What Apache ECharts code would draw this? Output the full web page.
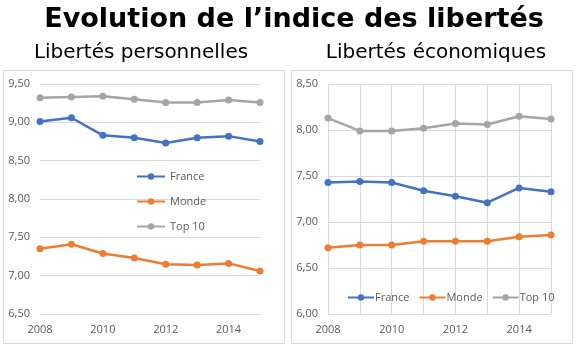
<!DOCTYPE html>
<html>
<head>
<meta charset="utf-8">
<script src="https://cdn.jsdelivr.net/npm/echarts@6/dist/echarts.min.js"></script>
<style>
  html, body { margin: 0; padding: 0; background: #fff; }
  #chart { width: 580px; height: 354px; }
</style>
</head>
<body>
<div id="chart"></div>
<script>
const years = ['2008', '2009', '2010', '2011', '2012', '2013', '2014', '2015']
const seriesNames = ['France', 'Monde', 'Top 10']
const colors = ['#4472C4', '#ED7D31', '#A5A5A5']

// libertés personnelles
const persoFrance = [9.01, 9.06, 8.83, 8.80, 8.73, 8.80, 8.82, 8.75]
const persoMonde = [7.35, 7.41, 7.29, 7.23, 7.15, 7.14, 7.16, 7.06]
const persoTop10 = [9.32, 9.33, 9.34, 9.30, 9.26, 9.26, 9.29, 9.26]

// libertés économiques
const ecoFrance = [7.43, 7.44, 7.43, 7.34, 7.28, 7.21, 7.37, 7.33]
const ecoMonde = [6.72, 6.75, 6.75, 6.79, 6.79, 6.79, 6.84, 6.86]
const ecoTop10 = [8.13, 7.99, 7.99, 8.02, 8.07, 8.06, 8.15, 8.12]

const chart = echarts.init(document.getElementById('chart'))

const labelFont = { color: '#595959', fontSize: 11, fontFamily: 'Open Sans' }
const gridLine = { lineStyle: { color: '#D9D9D9', width: 1 } }
const fmt = v => v.toFixed(2).replace('.', ',')

function xAxis(gridIndex, vLines) {
  return {
    type: 'category', gridIndex: gridIndex, data: years, boundaryGap: false,
    axisLine: { show: false }, axisTick: { show: false },
    axisLabel: Object.assign({ interval: 1, margin: 10 }, labelFont),
    splitLine: { show: vLines, interval: 0, lineStyle: gridLine.lineStyle }
  }
}

function yAxis(gridIndex, min, max) {
  return {
    type: 'value', gridIndex: gridIndex, min: min, max: max, interval: 0.5,
    axisLine: { show: false }, axisTick: { show: false },
    axisLabel: Object.assign({ formatter: fmt, margin: 10 }, labelFont),
    splitLine: gridLine
  }
}

function line(name, data, idx) {
  const i = seriesNames.indexOf(name)
  return {
    name: name, type: 'line', data: data,
    xAxisIndex: idx, yAxisIndex: idx,
    symbol: 'circle', symbolSize: 7,
    lineStyle: { width: 2.5, color: colors[i] },
    itemStyle: { color: colors[i] }
  }
}

chart.setOption({
  animation: false,
  color: colors,
  title: [
    { text: 'Evolution de l\u2019indice des libertés', left: 289, top: 1, textAlign: 'center',
      textStyle: { fontFamily: 'DejaVu Sans', fontWeight: 'bold', fontSize: 27, color: '#000' } },
    { text: 'Libertés personnelles', left: 136, top: 38, textAlign: 'center',
      textStyle: { fontFamily: 'DejaVu Sans', fontWeight: 'normal', fontSize: 20, color: '#000' } },
    { text: 'Libertés économiques', left: 431, top: 38, textAlign: 'center',
      textStyle: { fontFamily: 'DejaVu Sans', fontWeight: 'normal', fontSize: 20, color: '#000' } }
  ],
  graphic: [
    { type: 'rect', shape: { x: 3.5, y: 70.5, width: 281, height: 273 },
      style: { fill: null, stroke: '#D9D9D9', lineWidth: 1 } },
    { type: 'rect', shape: { x: 291.5, y: 70.5, width: 281, height: 273 },
      style: { fill: null, stroke: '#D9D9D9', lineWidth: 1 } }
  ],
  legend: [
    { data: seriesNames, orient: 'vertical', left: 131, top: 166, itemGap: 14,
      itemWidth: 28, itemHeight: 8, textStyle: labelFont },
    { data: seriesNames, orient: 'horizontal', left: 342, top: 287, width: 240, itemGap: 9,
      itemWidth: 26, itemHeight: 8,
      textStyle: Object.assign({ padding: [0, 0, 0, -4] }, labelFont) }
  ],
  grid: [
    { left: 40, top: 84, width: 220, height: 230 },
    { left: 328, top: 84, width: 223, height: 230 }
  ],
  xAxis: [xAxis(0, false), xAxis(1, true)],
  yAxis: [yAxis(0, 6.5, 9.5), yAxis(1, 6.0, 8.5)],
  series: [
    line('France', persoFrance, 0),
    line('Monde', persoMonde, 0),
    line('Top 10', persoTop10, 0),
    line('France', ecoFrance, 1),
    line('Monde', ecoMonde, 1),
    line('Top 10', ecoTop10, 1)
  ]
})
</script>
</body>
</html>
